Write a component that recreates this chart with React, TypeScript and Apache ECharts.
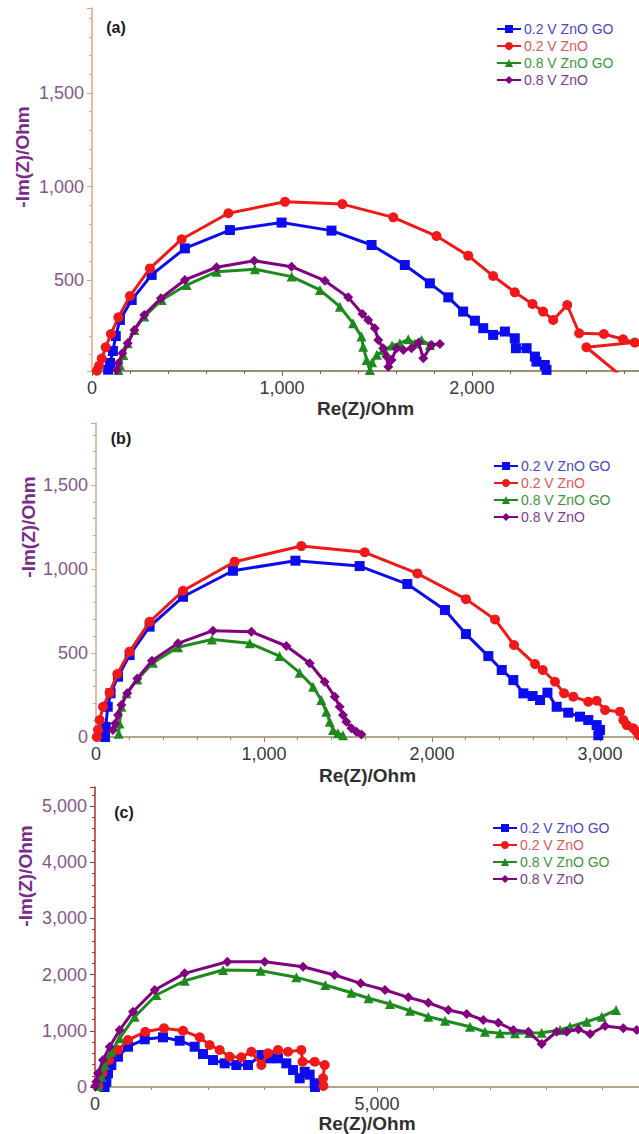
import React, { useEffect, useRef } from 'react';
import * as echarts from 'echarts';

const seriesNames = ['0.2 V ZnO GO', '0.2 V ZnO', '0.8 V ZnO GO', '0.8 V ZnO'];
const seriesColors = ['#0c0cf0', '#f01818', '#1e8a1e', '#800080'];
const legendTextColors = ['#4848c8', '#e05858', '#3c963c', '#7a3c8c'];
const seriesSymbols = ['rect', 'circle', 'triangle', 'diamond'];
const panelLabels = ['(a)', '(b)', '(c)'];
const xAxisName = 'Re(Z)/Ohm';
const yAxisName = '-Im(Z)/Ohm';

// Panel (a)
const aBlue = [[85,20],[95,56],[110,120],[125,200],[147,286],[209,393],[314,527],[489,669],[726,767],[998,807],[1261,764],[1472,687],[1647,580],[1779,482],[1876,407],[1954,331],[2016,282],[2060,242],[2112,206],[2174,224],[2226,188],[2232,135],[2288,135],[2332,90],[2340,63],[2384,45],[2393,19]];
const aRed = [[26,15],[37,40],[51,80],[72,140],[100,211],[139,300],[200,414],[305,562],[472,718],[718,857],[1016,918],[1318,906],[1586,835],[1814,735],[1981,630],[2112,521],[2226,434],[2319,372],[2375,331],[2428,286],[2502,366],[2565,215],[2695,211],[2796,183],[2858,165],[2950,175],[2603,140],[2770,0]];
const aGreen = [[139,19],[147,45],[165,99],[188,161],[223,233],[275,304],[367,393],[498,473],[656,544],[858,557],[1051,518],[1200,447],[1305,357],[1375,268],[1419,197],[1428,143],[1446,72],[1463,19],[1475,60],[1500,100],[1540,125],[1580,150],[1621,161],[1665,183],[1700,160],[1735,179],[1779,152]];
const aPurple = [[130,19],[139,55],[160,108],[188,161],[223,233],[275,313],[363,402],[489,500],[656,568],[854,603],[1051,571],[1226,496],[1349,407],[1424,318],[1454,286],[1489,242],[1507,179],[1533,135],[1551,90],[1560,36],[1577,72],[1604,135],[1639,126],[1682,135],[1720,165],[1744,81],[1788,152],[1832,158]];

// Panel (b)
const bBlue = [[54,0],[58,60],[70,180],[87,260],[131,359],[200,488],[319,657],[518,835],[815,990],[1187,1050],[1569,1018],[1853,911],[2077,756],[2202,613],[2335,482],[2415,399],[2484,339],[2544,260],[2599,244],[2643,220],[2687,264],[2742,180],[2811,145],[2881,121],[2930,101],[2980,71],[3000,42],[2990,10]];
const bRed = [[5,0],[12,42],[22,101],[42,180],[81,264],[127,375],[200,508],[319,686],[518,871],[825,1044],[1222,1137],[1599,1100],[1913,974],[2202,821],[2375,700],[2488,548],[2613,434],[2659,399],[2732,329],[2786,260],[2841,240],[2930,210],[2980,216],[3030,161],[3119,151],[3139,101],[3159,71],[3198,52],[3218,32],[3232,10]];
const bGreen = [[135,20],[140,80],[151,180],[181,260],[246,343],[339,442],[488,534],[690,581],[915,558],[1093,482],[1212,383],[1292,300],[1341,220],[1371,151],[1391,91],[1411,42],[1440,22],[1470,10]];
const bPurple = [[101,42],[115,81],[131,131],[151,190],[186,260],[246,349],[333,454],[488,558],[696,633],[925,627],[1133,542],[1272,439],[1361,329],[1421,240],[1450,180],[1470,131],[1490,91],[1520,52],[1550,32],[1580,15]];

// Panel (c)
const cBlue = [[170,0],[201,94],[231,244],[290,391],[408,539],[585,717],[881,849],[1206,884],[1501,824],[1767,717],[1915,587],[2092,480],[2299,421],[2506,391],[2713,391],[2949,569],[3097,510],[3245,510],[3392,421],[3511,302],[3629,155],[3718,272],[3806,220],[3895,66],[3900,0]];
const cRed = [[60,20],[130,250],[250,480],[408,658],[585,836],[892,984],[1223,1044],[1560,1002],[1856,884],[2033,747],[2210,658],[2388,539],[2594,528],[2772,628],[2949,391],[3067,600],[3245,658],[3422,628],[3658,658],[3680,450],[3895,450],[4072,391],[4043,155],[4050,20]];
const cGreen = [[60,20],[112,184],[172,391],[290,628],[437,866],[703,1251],[1087,1637],[1590,1891],[2270,2082],[2937,2070],[3570,1952],[4084,1815],[4545,1678],[4850,1580],[5230,1477],[5585,1358],[5910,1251],[6206,1180],[6649,1073],[6915,984],[7181,955],[7447,955],[7700,960],[7920,967],[8245,1014],[8422,1073],[8718,1162],[8984,1251],[9238,1370]];
const cPurple = [[5,20],[23,94],[53,244],[142,480],[260,717],[437,1014],[674,1340],[1058,1726],[1590,2023],[2346,2230],[3008,2230],[3688,2141],[4250,1993],[4710,1845],[5142,1726],[5555,1596],[5910,1500],[6264,1370],[6590,1299],[6885,1192],[7151,1144],[7417,1014],[7683,984],[7920,765],[8186,984],[8363,984],[8570,1027],[8777,943],[9043,1085],[9367,1044],[9604,1014]];

const panelData = [
  [aBlue, aRed, aGreen, aPurple],
  [bBlue, bRed, bGreen, bPurple],
  [cBlue, cRed, cGreen, cPurple],
];

const FONT = 'Arial, "Liberation Sans", sans-serif';

export default function App() {
  const ref = useRef<HTMLDivElement>(null);
  useEffect(() => {
    document.body.style.margin = '0';
    const chart = echarts.init(ref.current!, null, { renderer: 'svg' });

    const grids = [
      { left: 92, top: 8, width: 547, height: 363 },
      { left: 96, top: 423, width: 543, height: 314 },
      { left: 95, top: 787, width: 544, height: 300 },
    ];
    const yAxisLineColors = ['#e8a27e', '#c9aa86', '#a83232'];
    const xAxisLineColors = ['#7a6a48', '#9a8a60', '#9a8a60'];
    const xRanges = [
      { min: 0, max: 2880, interval: 1000 },
      { min: 0, max: 3232, interval: 1000 },
      { min: 0, max: 9645, interval: 5000 },
    ];
    const yRanges: any[] = [
      { min: 13, max: 1955, splitNumber: 4 },
      { min: 0, max: 1870, interval: 500 },
      { min: 0, max: 5340, interval: 1000 },
    ];
    const xNameGaps = [28, 29, 27];

    const xAxis = grids.map((_, i) => ({
      type: 'value',
      gridIndex: i,
      ...xRanges[i],
      name: xAxisName,
      nameLocation: 'middle',
      nameGap: xNameGaps[i],
      nameTextStyle: { fontFamily: FONT, fontWeight: 'bold', fontSize: 19, color: '#303030' },
      axisLine: { show: true, lineStyle: { color: xAxisLineColors[i], width: 1.5 } },
      axisTick: { show: true, length: 5, lineStyle: { color: xAxisLineColors[i] } },
      minorTick: { show: true, splitNumber: 5, length: 3, lineStyle: { color: xAxisLineColors[i] } },
      splitLine: { show: false },
      axisLabel: {
        fontFamily: FONT, fontSize: 18, color: '#3a3a3a', margin: 8,
        showMaxLabel: false,
        formatter: (v: number) => v.toLocaleString('en-US'),
      },
    }));

    const yAxis = grids.map((_, i) => ({
      type: 'value',
      gridIndex: i,
      ...yRanges[i],
      axisLine: { show: true, lineStyle: { color: yAxisLineColors[i], width: 1.5 } },
      axisTick: { show: true, length: 5, lineStyle: { color: yAxisLineColors[i] } },
      minorTick: { show: true, splitNumber: 5, length: 3, lineStyle: { color: yAxisLineColors[i] } },
      splitLine: { show: false },
      axisLabel: {
        fontFamily: FONT, fontSize: 18, color: '#84568a', margin: 8,
        showMaxLabel: false,
        showMinLabel: i !== 0,
        formatter: (v: number) => v.toLocaleString('en-US'),
      },
    }));

    const series: any[] = [];
    panelData.forEach((sets, p) => {
      sets.forEach((d, k) => {
        series.push({
          type: 'line',
          name: seriesNames[k],
          xAxisIndex: p,
          yAxisIndex: p,
          data: d,
          symbol: seriesSymbols[k],
          symbolSize: k === 0 ? 10 : 10,
          showAllSymbol: true,
          clip: true,
          color: seriesColors[k],
          lineStyle: { color: seriesColors[k], width: 3 },
          itemStyle: { color: seriesColors[k] },
          emphasis: { disabled: true },
          z: 2 + k,
        });
      });
    });

    const legendPos = [
      { left: 496, top: 22 },
      { left: 493, top: 459 },
      { left: 492, top: 821 },
    ];
    const legend = legendPos.map((pos) => ({
      ...pos,
      orient: 'vertical',
      itemWidth: 24,
      itemHeight: 10,
      itemGap: 3,
      selectedMode: false,
      padding: 0,
      data: seriesNames.map((n, k) => ({ name: n, textStyle: { color: legendTextColors[k] } })),
      textStyle: { fontFamily: FONT, fontSize: 14, lineHeight: 14, padding: [0, 0, 0, -2] },
    }));

    const labelPos = [[116, 27], [121, 438], [124, 812]];
    const namePos = [[22, 157], [28, 527], [25, 876]];
    const graphic: any[] = [];
    labelPos.forEach((pt, i) => {
      graphic.push({
        type: 'text', x: pt[0], y: pt[1],
        style: { text: panelLabels[i], fill: '#1a1a1a', font: `bold 16px ${FONT}`, align: 'center', verticalAlign: 'middle' },
      });
    });
    namePos.forEach((pt) => {
      graphic.push({
        type: 'text', x: pt[0], y: pt[1], rotation: Math.PI / 2,
        style: { text: yAxisName, fill: '#7a2c8a', font: `bold 19px ${FONT}`, align: 'center', verticalAlign: 'middle' },
      });
    });

    chart.setOption({
      animation: false,
      backgroundColor: '#ffffff',
      grid: grids,
      xAxis,
      yAxis,
      series,
      legend,
      graphic,
    });
    return () => chart.dispose();
  }, []);
  return <div ref={ref} style={{ width: 639, height: 1134 }} />;
}
